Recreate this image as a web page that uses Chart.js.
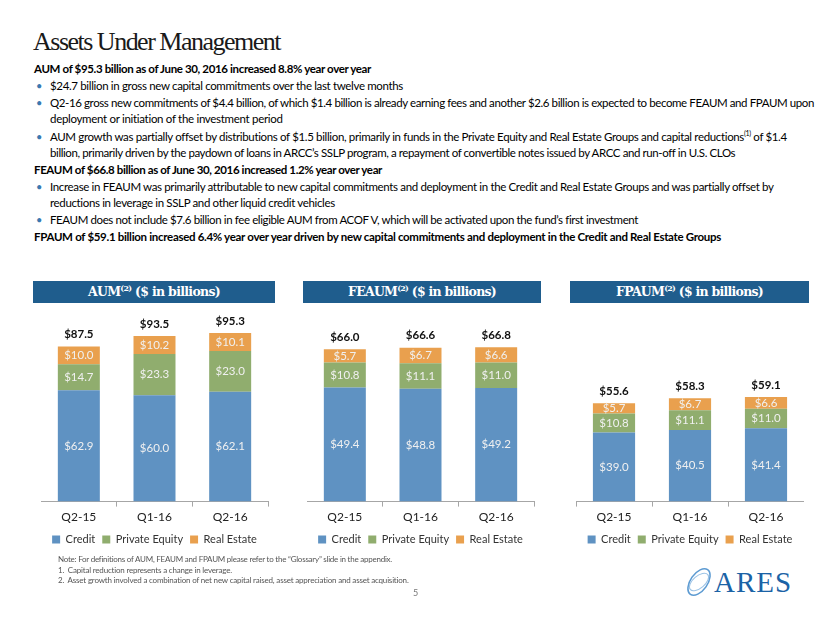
<!DOCTYPE html>
<html>
<head>
<meta charset="utf-8">
<script src="https://cdn.jsdelivr.net/npm/chart.js@4/dist/chart.umd.min.js"></script>
<style>
  html, body { margin: 0; padding: 0; background: #fff; }
  #slide { position: relative; width: 830px; height: 623px; overflow: hidden; background: #fff; font-family: Lato, "Open Sans", sans-serif; color: #000; }
  .ln { position: absolute; white-space: nowrap; font-size: 11.5px; line-height: 14px; display: inline-block; }
  .b { font-weight: bold; }
  .bul { position: absolute; font-size: 11px; line-height: 14px; color: #3b78b0; }
  .title { position: absolute; left: 33px; top: 27px; font-family: "Liberation Serif", "DejaVu Serif", serif; font-size: 26px; line-height: 30px; white-space: nowrap; color: #1a1a1a; }
  .hdr { position: absolute; top: 281px; height: 22px; background: #1f5d8d; }
  .hdr span.t { position: absolute; top: 3px; white-space: nowrap; color: #fff; font-family: "DejaVu Serif", "Liberation Serif", serif; font-weight: bold; font-size: 12.5px; line-height: 16px; }
  .hdr sup { font-size: 8px; vertical-align: 5px; line-height: 0; }
  canvas.ch { position: absolute; }
  .fn { position: absolute; white-space: nowrap; font-size: 8px; line-height: 10px; color: #555; }
  .logo { position: absolute; left: 714px; top: 566px; font-family: "Liberation Serif", "DejaVu Serif", serif; font-size: 29px; line-height: 32px; color: #1b63a6; letter-spacing: 1px; }
</style>
</head>
<body>
<div id="slide">
  <div class="title" data-w="247">Assets Under Management</div>

  <div class="ln b" style="left:34px;top:62px" data-w="337">AUM of $95.3 billion as of June 30, 2016 increased 8.8% year over year</div>
  <div class="bul" style="left:36px;top:79px">•</div>
  <div class="ln" style="left:50px;top:79px" data-w="353">$24.7 billion in gross new capital commitments over the last twelve months</div>
  <div class="bul" style="left:36px;top:96px">•</div>
  <div class="ln" style="left:50px;top:96px" data-w="764">Q2-16 gross new commitments of $4.4 billion, of which $1.4 billion is already earning fees and another $2.6 billion is expected to become FEAUM and FPAUM upon</div>
  <div class="ln" style="left:50px;top:112px" data-w="233">deployment or initiation of the investment period</div>
  <div class="bul" style="left:36px;top:130px">•</div>
  <div class="ln" style="left:50px;top:130px" data-w="737">AUM growth was partially offset by distributions of $1.5 billion, primarily in funds in the Private Equity and Real Estate Groups and capital reductions<sup style="font-size:7px;line-height:0">(1)</sup> of $1.4</div>
  <div class="ln" style="left:50px;top:146px" data-w="685">billion, primarily driven by the paydown of loans in ARCC’s SSLP program, a repayment of convertible notes issued by ARCC and run-off in U.S. CLOs</div>
  <div class="ln b" style="left:34px;top:163px" data-w="348">FEAUM of $66.8 billion as of June 30, 2016 increased 1.2% year over year</div>
  <div class="bul" style="left:36px;top:180px">•</div>
  <div class="ln" style="left:50px;top:180px" data-w="723">Increase in FEAUM was primarily attributable to new capital commitments and deployment in the Credit and Real Estate Groups and was partially offset by</div>
  <div class="ln" style="left:50px;top:196px" data-w="285">reductions in leverage in SSLP and other liquid credit vehicles</div>
  <div class="bul" style="left:36px;top:213px">•</div>
  <div class="ln" style="left:50px;top:213px" data-w="588">FEAUM does not include $7.6 billion in fee eligible AUM from ACOF V, which will be activated upon the fund’s first investment</div>
  <div class="ln b" style="left:34px;top:230px" data-w="687">FPAUM of $59.1 billion increased 6.4% year over year driven by new capital commitments and deployment in the Credit and Real Estate Groups</div>

  <div class="hdr" style="left:33px;width:242px"><span class="t" data-w="132" data-c="121">AUM<sup>(2)</sup> ($ in billions)</span></div>
  <div class="hdr" style="left:303px;width:238px"><span class="t" data-w="148" data-c="119">FEAUM<sup>(2)</sup> ($ in billions)</span></div>
  <div class="hdr" style="left:570px;width:239px"><span class="t" data-w="147" data-c="119.5">FPAUM<sup>(2)</sup> ($ in billions)</span></div>

  <canvas id="c1" class="ch" width="246" height="255" style="left:41px;top:300px"></canvas>
  <canvas id="c2" class="ch" width="239" height="255" style="left:307px;top:300px"></canvas>
  <canvas id="c3" class="ch" width="228" height="255" style="left:576px;top:300px"></canvas>

  <div class="fn" style="left:58px;top:554px" data-w="334">Note: For definitions of AUM, FEAUM and FPAUM please refer to the “Glossary” slide in the appendix.</div>
  <div class="fn" style="left:58px;top:565px" data-w="174">1.&nbsp; Capital reduction represents a change in leverage.</div>
  <div class="fn" style="left:58px;top:575px" data-w="351">2.&nbsp; Asset growth involved a combination of net new capital raised, asset appreciation and asset acquisition.</div>
  <div class="fn" style="left:413px;top:588px;font-size:9px;color:#777">5</div>

  <svg style="position:absolute;left:682px;top:565px" width="34" height="34" viewBox="0 0 34 34">
    <ellipse cx="17" cy="17" rx="15" ry="8.5" transform="rotate(-55 17 17)" fill="none" stroke="#5d9bd2" stroke-width="1.6"/>
    <ellipse cx="17" cy="17" rx="11.5" ry="6" transform="rotate(-40 17 17)" fill="none" stroke="#9cc3e6" stroke-width="1.1"/>
  </svg>
  <div class="logo">ARES</div>
</div>

<script>
// ---------- data ----------
const categories = ['Q2-15', 'Q1-16', 'Q2-16'];
const seriesNames = ['Credit', 'Private Equity', 'Real Estate'];

const aumCredit = [62.9, 60.0, 62.1];
const aumPrivateEquity = [14.7, 23.3, 23.0];
const aumRealEstate = [10.0, 10.2, 10.1];
const aumTotal = [87.5, 93.5, 95.3];

const feaumCredit = [49.4, 48.8, 49.2];
const feaumPrivateEquity = [10.8, 11.1, 11.0];
const feaumRealEstate = [5.7, 6.7, 6.6];
const feaumTotal = [66.0, 66.6, 66.8];

const fpaumCredit = [39.0, 40.5, 41.4];
const fpaumPrivateEquity = [10.8, 11.1, 11.0];
const fpaumRealEstate = [5.7, 6.7, 6.6];
const fpaumTotal = [55.6, 58.3, 59.1];

// ---------- text fitting ----------
document.querySelectorAll('[data-w]').forEach(el => {
  const target = parseFloat(el.dataset.w);
  const n = el.textContent.length;
  const w = el.getBoundingClientRect().width;
  el.style.letterSpacing = ((target - w) / n) + 'px';
  if (el.dataset.c) {
    const w2 = el.getBoundingClientRect().width;
    el.style.left = (parseFloat(el.dataset.c) - w2 / 2) + 'px';
  }
});

// ---------- charts ----------
const colors = ['#5f92c2', '#90ad6e', '#e9a04e'];
const fam = 'Lato, "Open Sans", sans-serif';

const labelPlugin = {
  id: 'segLabels',
  afterDatasetsDraw(chart, args, opts) {
    const ctx = chart.ctx;
    ctx.save();
    ctx.textAlign = 'center';
    ctx.textBaseline = 'middle';
    ctx.font = '11.5px ' + fam;
    ctx.fillStyle = '#f0f0f0';
    chart.data.datasets.forEach((ds, i) => {
      chart.getDatasetMeta(i).data.forEach((bar, j) => {
        ctx.fillText('$' + ds.data[j].toFixed(1), bar.x, (bar.y + bar.base) / 2);
      });
    });
    const last = chart.getDatasetMeta(chart.data.datasets.length - 1).data;
    ctx.font = 'bold 11.5px ' + fam;
    ctx.fillStyle = '#111';
    last.forEach((bar, j) => {
      ctx.fillText('$' + opts.totals[j].toFixed(1), bar.x, bar.y - 12);
    });
    ctx.restore();
  }
};

function makeChart(id, credit, pe, re, totals, yMax, padRight) {
  new Chart(document.getElementById(id), {
    type: 'bar',
    data: {
      labels: categories,
      datasets: [
        { label: seriesNames[0], data: credit, backgroundColor: colors[0] },
        { label: seriesNames[1], data: pe, backgroundColor: colors[1] },
        { label: seriesNames[2], data: re, backgroundColor: colors[2] }
      ]
    },
    options: {
      responsive: false,
      animation: false,
      devicePixelRatio: 1,
      categoryPercentage: 1,
      barPercentage: 0.555,
      layout: { padding: { top: 10, right: padRight, left: 0, bottom: 0 } },
      scales: {
        x: {
          stacked: true,
          grid: { drawOnChartArea: false, drawTicks: true, tickLength: 5, color: '#a6a6a6' },
          border: { color: '#a6a6a6' },
          ticks: { color: '#222', font: { family: fam, size: 12 }, padding: 3 }
        },
        y: { stacked: true, display: false, min: 0, max: yMax }
      },
      plugins: {
        legend: {
          position: 'bottom',
          labels: { boxWidth: 8, boxHeight: 8, padding: 7, color: '#333', font: { family: fam, size: 11 } }
        },
        tooltip: { enabled: false },
        segLabels: { totals: totals }
      }
    },
    plugins: [labelPlugin]
  });
}

makeChart('c1', aumCredit, aumPrivateEquity, aumRealEstate, aumTotal, 108.2, 19);
makeChart('c2', feaumCredit, feaumPrivateEquity, feaumRealEstate, feaumTotal, 82.9, 12);
makeChart('c3', fpaumCredit, fpaumPrivateEquity, fpaumRealEstate, fpaumTotal, 108.2, 0);
</script>
</body>
</html>
